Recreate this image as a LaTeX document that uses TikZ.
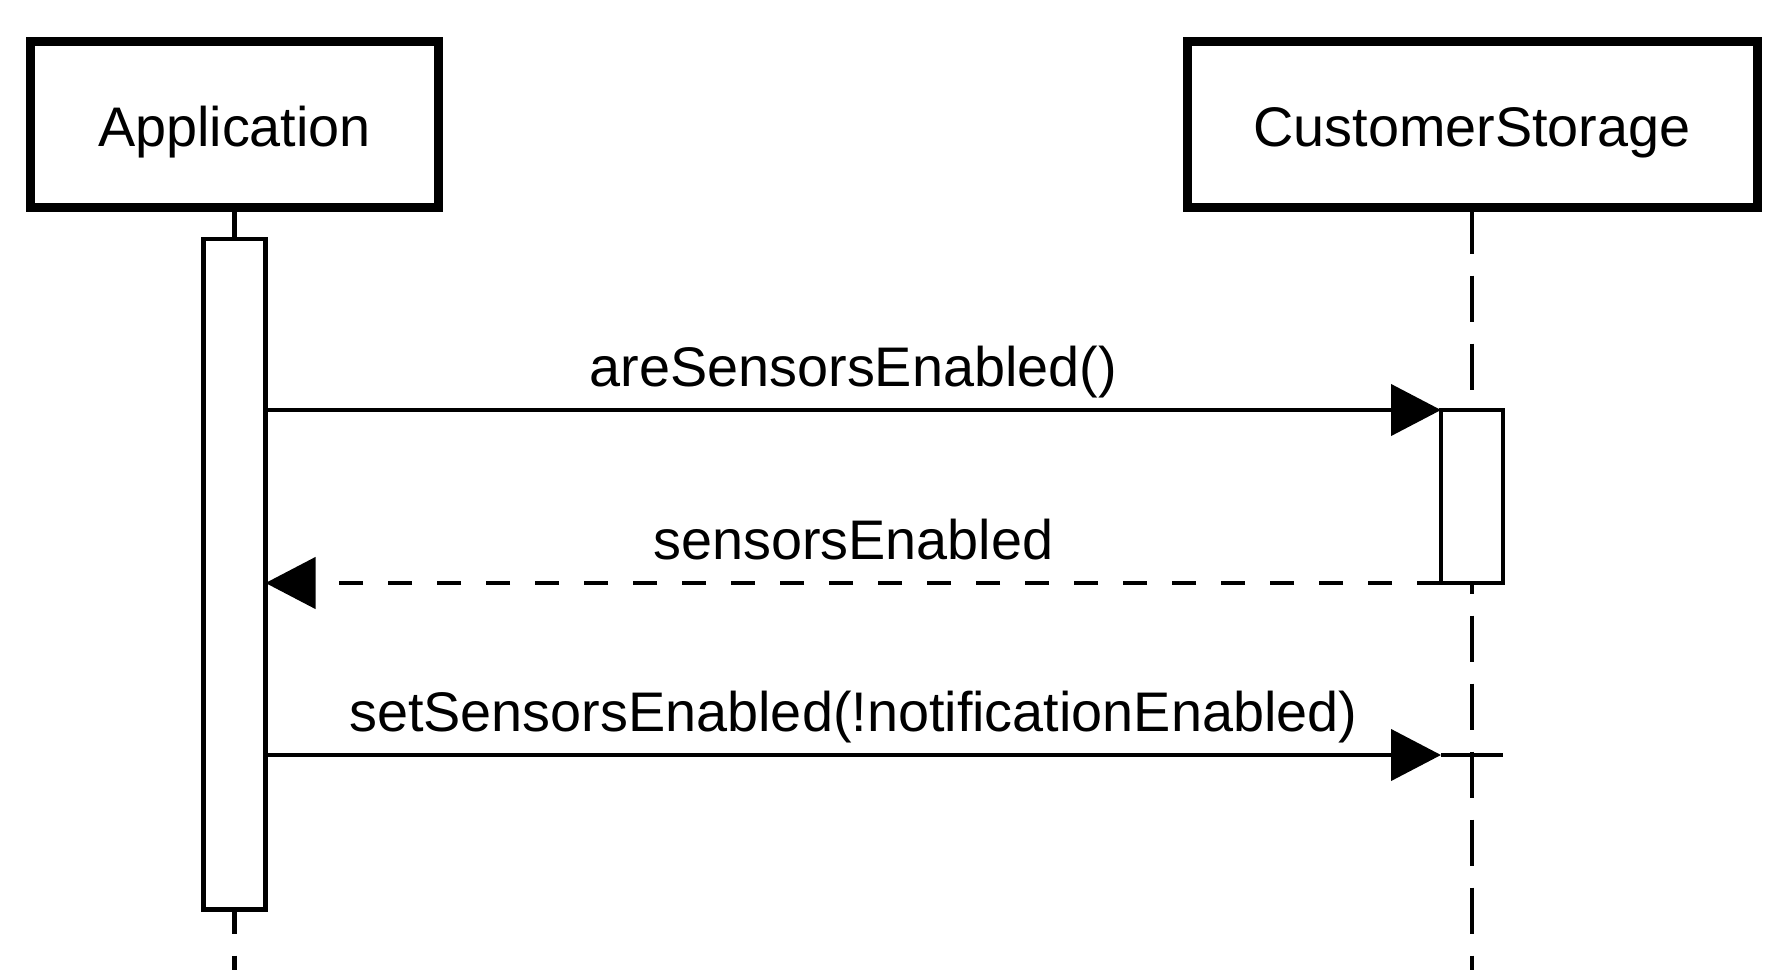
\documentclass[tikz,border=0pt]{standalone}
\usepackage{fontspec}
\setmainfont{Liberation Sans}
\usetikzlibrary{arrows.meta}
\begin{document}
\begin{tikzpicture}[x=0.5pt,y=-0.5pt,
  txt/.style={font=\fontsize{27.9pt}{33pt}\selectfont},
  header/.style={draw, line width=4.5pt, fill=white, minimum height=83pt, inner sep=0pt, outer sep=0pt, text height=22.2pt, text depth=0pt, txt},
  activation/.style={draw, line width=2.3pt, fill=white, minimum width=31pt, inner sep=0pt, outer sep=0pt},
  lifeline/.style={line width=2.3pt, dash pattern=on 23pt off 11pt},
  msg/.style={line width=2.2pt, -{Triangle[length=25pt,width=25.5pt]}},
  reply/.style={msg, dash pattern=on 12pt off 12.5pt},
  lbl/.style={anchor=base, yshift=12pt, inner sep=0pt, txt}]
\useasboundingbox (0,0) rectangle (1789,970);
% headers
\node[header, minimum width=204pt] (app) at (234.5,124.5) {Application};
\node[header, minimum width=285pt] (cs) at (1472,124.5) {CustomerStorage};
\coordinate (append) at (234.5,970);
\coordinate (csend) at (1472,970);
% lifelines
\draw[lifeline] (app.south) -- (append);
\draw[lifeline] (cs.south) -- (csend);
% redraw headers on top
\node[header, minimum width=204pt] at (app) {Application};
\node[header, minimum width=285pt] at (cs) {CustomerStorage};
% activations
\node[activation, minimum height=335.25pt] (appact) at (234.5,574.25) {};
\node[activation, minimum height=86.5pt] (csact) at (1472,496.5) {};
\node[inner sep=0pt, outer sep=0pt, minimum width=31pt, minimum height=0pt] (csact3) at (1472,755) {};
\draw[line width=2.3pt] (csact3.west) -- (csact3.east);
% messages
\draw[msg] (appact.east |- csact.north west) -- (csact.north west)
  node[lbl, pos=0.5] {areSensorsEnabled()};
\draw[reply] (csact.south west) -- (appact.east |- csact.south west)
  node[lbl, pos=0.5] {sensorsEnabled};
\draw[msg] (appact.east |- csact3.west) -- (csact3.west)
  node[lbl, pos=0.5] {setSensorsEnabled(!notificationEnabled)};
\end{tikzpicture}
\end{document}
